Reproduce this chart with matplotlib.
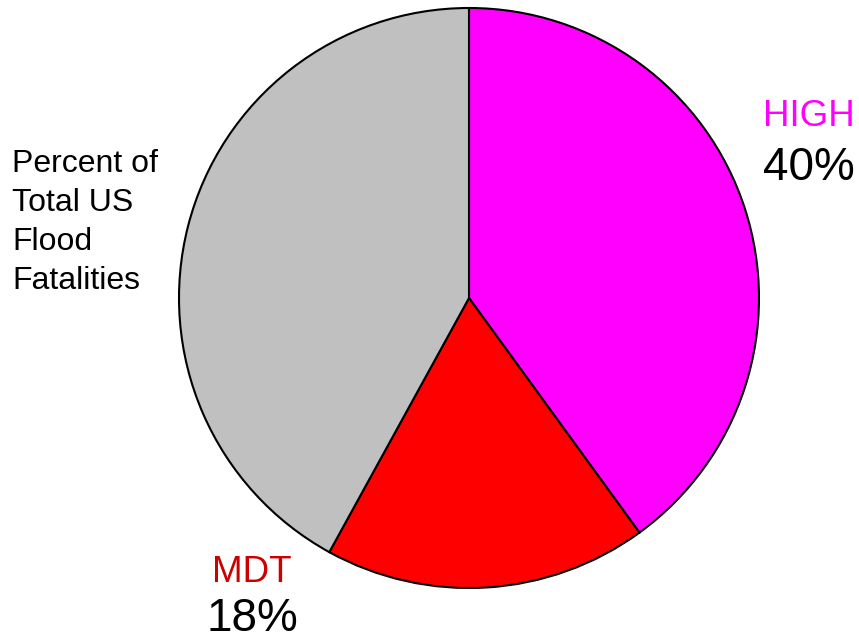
import matplotlib

matplotlib.use("Agg")

import matplotlib.pyplot as plt

plt.rcParams["font.family"] = ["Liberation Sans", "DejaVu Sans"]

# slices, clockwise from 12 o'clock
labels = ["HIGH", "MDT", "other"]
shares = [40, 18, 42]
colors = ["#ff00ff", "#ff0000", "#c0c0c0"]
label_colors = ["#ff00ff", "#cc0000"]
side_text = "Percent of\nTotal US\nFlood\nFatalities"

W, H = 859, 643
fig = plt.figure(figsize=(W / 100, H / 100), dpi=100)
ax = fig.add_axes([0, 0, 1, 1])

ax.pie(
    shares,
    colors=colors,
    startangle=90,
    counterclock=False,
    center=(469, H - 298),
    radius=290,
    wedgeprops=dict(edgecolor="black", linewidth=1.5),
    frame=True,
)
ax.set_xlim(0, W)
ax.set_ylim(0, H)
ax.set_aspect("equal")
ax.axis("off")

# HIGH label
ax.text(809, H - 116, labels[0], color=label_colors[0], fontsize=26.5,
        ha="center", va="center")
ax.text(809, H - 168, f"{shares[0]}%", color="black", fontsize=33,
        ha="center", va="center")
# MDT label
ax.text(252, H - 573, labels[1], color=label_colors[1], fontsize=26.5,
        ha="center", va="center")
ax.text(252, H - 619, f"{shares[1]}%", color="black", fontsize=33,
        ha="center", va="center")

ax.text(12, H - 149, side_text, color="black", fontsize=23, ha="left",
        va="top", linespacing=1.39)

fig.savefig("out.png", dpi=100)
plt.close(fig)
